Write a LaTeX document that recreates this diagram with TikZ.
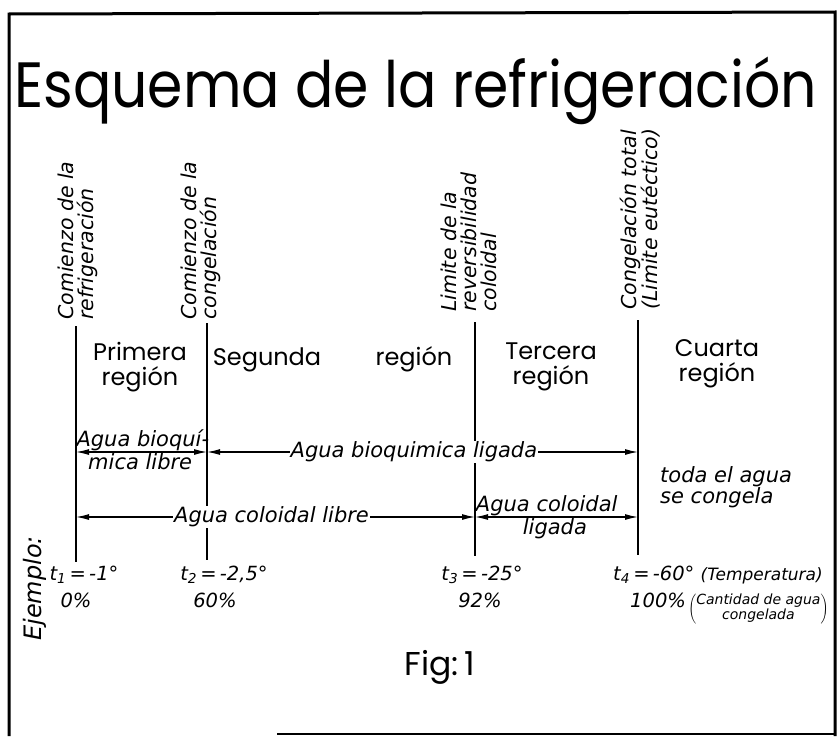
\documentclass[tikz,border=0pt]{standalone}
\usepackage{graphicx}
\usepackage{fontspec}
\setmainfont{Poppins}
\newfontfamily\rotulofont{DejaVu Sans}
\usetikzlibrary{arrows.meta}

\tikzset{
  linea/.style={line width=2.4pt},
  flecha/.style={line width=1.2pt, {Latex[length=13pt,width=6pt]}-{Latex[length=13pt,width=6pt]}},
  rotulo/.style={font=\rotulofont\itshape\fontsize{20.5}{20}\selectfont, rotate=90, anchor=west, align=left, inner sep=0pt},
  region/.style={font=\fontsize{24}{25}\selectfont, align=center, inner sep=0pt},
  agua/.style={font=\rotulofont\itshape\fontsize{21}{20}\selectfont, inner sep=1pt},
  ejemplo/.style={font=\rotulofont\itshape\fontsize{19.5}{24}\selectfont, inner sep=0pt},
}

\begin{document}
\begin{tikzpicture}[x=1pt,y=-1pt]
  \useasboundingbox (0,0) rectangle (837,736);

  % Marco
  \draw[line width=3pt] (9,736) -- (9,14) -- (835,12) -- (835,736);
  \draw[line width=2pt] (277,734) -- (835,734);

  % Titulo
  \node[anchor=base west, inner sep=0pt] (titulo) at (14,107)
    {\resizebox{803pt}{\height}{\fontsize{64}{64}\selectfont Esquema de la refrigeración}};

  % --- LINEAS VERTICALES ---
  \coordinate (l1a) at (76,326);  \coordinate (l1b) at (76,562);
  \coordinate (l2a) at (207,323); \coordinate (l2b) at (207,560);
  \coordinate (l3a) at (475,322); \coordinate (l3b) at (475,556);
  \coordinate (l4a) at (638,320); \coordinate (l4b) at (638,555);
  \foreach \n in {1,...,4}
    \draw[linea] (l\n a) -- (l\n b);

  % Rotulos verticales
  \node[rotulo] (r1) at (78,320) {Comienzo de la\\refrigeración};
  \node[rotulo] (r2) at (201,320) {Comienzo de la\\congelación};
  \node[rotulo] (r3) at (469,312) {Limite de la\\reversibilidad\\coloidal};
  \node[rotulo] (r4) at (640,310) {Congelación total\\(Limite eutéctico)};

  % Regiones
  \node[region] (reg1) at (140,367) {Primera\\región};
  \node[region, anchor=base] (reg2a) at (267,365) {Segunda};
  \node[region, anchor=base] (reg2b) at (414,365) {región};
  \node[region] (reg3) at (551,367) {Tercera\\región};
  \node[region] (reg4) at (717,364) {Cuarta\\región};

  % --- AGUA ---
  \coordinate (yb) at (0,452);
  \coordinate (yc) at (0,517);
  \draw[flecha] (l1a |- yb) -- (l2a |- yb)
    node[agua, pos=.51, above] (bl1) {Agua bioquí-}
    node[agua, pos=.49, below] (bl2) {mica libre};
  \draw[flecha] (l2a |- yb) -- (l4a |- yb)
    node[agua, pos=.48, fill=white] (bli) {Agua bioquimica ligada};
  \draw[flecha] (l1a |- yc) -- (l3a |- yc)
    node[agua, pos=.49, fill=white] (cl) {Agua coloidal libre};
  \draw[flecha] (l3a |- yc) -- (l4a |- yc)
    node[agua, pos=.44, above] (cli1) {Agua coloidal}
    node[agua, pos=.49, below] (cli2) {ligada};
  \node[agua, align=left, anchor=north west, font=\rotulofont\itshape\fontsize{21}{17}\selectfont] (toda) at (659,465) {toda el agua\\se congela};

  % --- EJEMPLO ---
  \node[ejemplo, rotate=90, anchor=west, font=\rotulofont\itshape\fontsize{24}{24}\selectfont] (ej) at (35,641) {Ejemplo:};
  \node[ejemplo, anchor=base] (t1) at (84,580) {t\textsubscript{1}\,=\,-1°};
  \node[ejemplo, anchor=base] (p1) at (76,607) {0\%};
  \node[ejemplo, anchor=base] (t2) at (224,580) {t\textsubscript{2}\,=\,-2,5°};
  \node[ejemplo, anchor=base] (p2) at (215,607) {60\%};
  \node[ejemplo, anchor=base] (t3) at (482,580) {t\textsubscript{3}\,=\,-25°};
  \node[ejemplo, anchor=base] (p3) at (480,607) {92\%};
  \node[ejemplo, anchor=base west] (t4) at (613,580)
    {t\textsubscript{4}\,=\,-60° {\fontsize{17}{17}\selectfont(Temperatura)}};
  \node[ejemplo, anchor=base west] (p4) at (630,607) {100\%};
  \node[ejemplo, anchor=north west, font=\rotulofont\itshape\fontsize{14}{15}\selectfont] (cant) at ([xshift=2pt,yshift=-1pt]p4.north east)
    {$\left(\begin{tabular}{@{}c@{}}\rotulofont\itshape Cantidad de agua\\ \rotulofont\itshape congelada\end{tabular}\right)$};

  % Figura
  \node[font=\fontsize{33}{33}\selectfont] (fig) at (440,667) {Fig:\,1};
\end{tikzpicture}
\end{document}
